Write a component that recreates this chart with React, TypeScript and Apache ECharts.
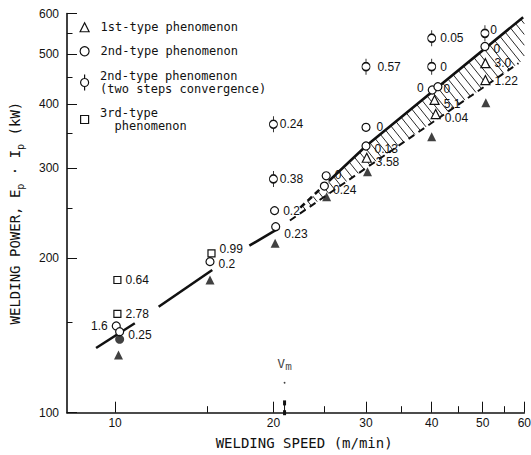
import React, { useEffect, useRef } from "react";
import * as echarts from "echarts";

// ---------- axis ticks ----------
const xMajorTicks = [10, 20, 30, 40, 50, 60];
const xMinorTicks = [15, 25, 35, 45, 55];
const yMajorTicks = [100, 200, 300, 400, 500, 600];
const yMinorTicks = [150, 250, 350, 450, 550];
const xRange = [8.1, 60];
const yRange = [100, 600];

// ---------- data (speed m/min, power kW, label) ----------
const type1Speed = [30.1, 40.5, 40.7, 50.6, 50.6];
const type1Power = [314, 407, 382, 480, 445];
const type1Labels = ["3.58", "5.1", "0.04", "3.0", "1.22"];

const type2Speed = [10.05, 10.2, 15.15, 20.1, 20.2, 25.2, 25.0, 30.0, 30.0, 40.1, 41.1, 50.5];
const type2Power = [147.6, 143.8, 197, 247.7, 230.5, 289.6, 276.5, 360, 331, 425.6, 432, 517.4];
const type2Labels = ["1.6", "0.25", "0.2", "0.2", "0.23", "0", "0.24", "0", "0.13", "0", "0", "0"];

const twoStepSpeed = [20.0, 20.0, 30.0, 40.0, 40.0, 50.5];
const twoStepPower = [365, 285.5, 472.6, 537, 472.6, 549];
const twoStepLabels = ["0.24", "0.38", "0.57", "0.05", "0", "0"];

const type3Speed = [10.1, 10.1, 15.25];
const type3Power = [181.4, 155.8, 204.5];
const type3Labels = ["0.64", "2.78", "0.99"];

const filledTriSpeed = [10.15, 15.15, 20.15, 25.25, 30.2, 40.0, 50.7];
const filledTriPower = [129.6, 181.4, 213.9, 263.5, 294.9, 345.2, 402];

const filledCircleSpeed = [10.2];
const filledCirclePower = [139];

// trend line (pairs of points = drawn segments)
const trendSpeed = [9.2, 10.9, 12.1, 15.3, 18.0, 20.5];
const trendPower = [133.7, 149.4, 160.9, 189.7, 211.6, 229];
// hatched band boundaries
const upperSpeed = [22.5, 25.5, 30, 59.7];
const upperPower = [251, 283, 331, 590];
const lowerSpeed = [21.5, 58.5];
const lowerPower = [237, 480];

// critical speed Vm
const vmSpeed = 21;
const vmArrowPower = [100, 104.5];
const vmDotPower = 114.4;

// ---------- label placement (style, kept apart from the data) ----------
type Place = [string, number, number];
const type1Place: Place[] = [["right", 0, 4], ["right", 0, 4], ["right", 0, 4], ["right", 0, 0], ["right", 0, 1]];
const type2Place: Place[] = [
  ["left", 0, 0], ["right", 0, 3], ["right", 0, 2], ["right", 0, 0], ["right", 0, 7], ["right", 0, -1],
  ["right", 0, 4], ["right", 2, 0], ["right", 0, 3], ["left", 0, -2], ["right", -3, 2], ["right", 0, 3],
];
const twoStepPlace: Place[] = [["right", -2, 0], ["right", -2, 0], ["right", 3, 0], ["right", 0, 0], ["right", 0, 0], ["right", -3, -3]];
const type3Place: Place[] = [["right", 0, 0], ["right", 0, 0], ["right", 0, -4]];

const INK = "#111";
const NUM_FONT = "Liberation Sans";
const MONO = "DejaVu Sans Mono";
const L = Math.log10;

const NAME1 = "1st-type phenomenon";
const NAME2 = "2nd-type phenomenon";
const NAME2B = "2nd-type phenomenon\n(two steps convergence)";
const NAME3 = "3rd-type\n  phenomenon";

const twoStepSymbol = "path://M4,0 L4,4 M4,12 L4,16 M0,8 A4,4 0 1 1 8,8 A4,4 0 1 1 0,8 Z";

function pts(sp: number[], pw: number[], labels?: string[], place?: Place[]) {
  return sp.map((s, i) => {
    const item: any = { value: [s, pw[i]] };
    if (labels) {
      item.name = labels[i];
      const p = place ? place[i] : ["right", 0, 0];
      item.label = { position: p[0], offset: [p[1], p[2]] };
    }
    return item;
  });
}

const labelStyle = {
  show: true,
  formatter: "{b}",
  color: INK,
  fontFamily: NUM_FONT,
  fontSize: 12,
  lineHeight: 11,
  distance: 4,
};

function openMarker(name: string, symbol: string, size: any, sp: number[], pw: number[], labels: string[], place: Place[]) {
  return {
    name,
    type: "scatter",
    symbol,
    symbolSize: size,
    z: 5,
    silent: true,
    itemStyle: { color: "#fff", borderColor: INK, borderWidth: 1.2, opacity: 1 },
    label: labelStyle,
    data: pts(sp, pw, labels, place),
  };
}

function segment(a: number[], b: number[], dashed: boolean, width: number) {
  return {
    type: "line",
    silent: true,
    showSymbol: false,
    symbol: "none",
    z: 3,
    lineStyle: { color: INK, width, type: dashed ? [6, 4] : "solid", cap: "butt" },
    data: [a, b],
  };
}

function buildOption() {
  const series: any[] = [];

  for (let i = 0; i + 1 < trendSpeed.length; i += 2) {
    series.push(segment([trendSpeed[i], trendPower[i]], [trendSpeed[i + 1], trendPower[i + 1]], false, 2.6));
  }
  series.push(segment([upperSpeed[0], upperPower[0]], [upperSpeed[1], upperPower[1]], true, 2.6));
  series.push({
    type: "line",
    silent: true,
    showSymbol: false,
    symbol: "none",
    z: 3,
    lineStyle: { color: INK, width: 2.6 },
    data: upperSpeed.slice(1).map((s, i) => [s, upperPower[i + 1]]),
  });
  series.push({
    type: "line",
    silent: true,
    showSymbol: false,
    symbol: "none",
    z: 3,
    lineStyle: { color: INK, width: 2, type: [7, 5] },
    data: lowerSpeed.map((s, i) => [s, lowerPower[i]]),
  });

  // hatching between the two boundaries
  series.push({
    type: "custom",
    silent: true,
    z: 2,
    data: [[upperSpeed[0], upperPower[0]]],
    renderItem: (params: any, api: any) => {
      const up = upperSpeed.map((s, i) => api.coord([s, upperPower[i]]));
      const lo = lowerSpeed.map((s, i) => api.coord([s, lowerPower[i]]));
      const ml = (lo[1][1] - lo[0][1]) / (lo[1][0] - lo[0][0]);
      const k = 1.25;
      const xmax = params.coordSys.x + params.coordSys.width;
      const children: any[] = [];
      const xEnd = up[up.length - 1][0];
      for (let x = up[0][0] + 2; x <= xEnd + 0.01; x += 5.2) {
        let y = up[0][1];
        for (let j = 0; j + 1 < up.length; j++) {
          if (x >= up[j][0] && x <= up[j + 1][0]) {
            const f = (x - up[j][0]) / (up[j + 1][0] - up[j][0]);
            y = up[j][1] + f * (up[j + 1][1] - up[j][1]);
          }
        }
        const t = (lo[0][1] + ml * (x - lo[0][0]) - y) / (k - ml);
        if (t <= 0.5) continue;
        let x2 = x + t;
        let y2 = y + k * t;
        if (x2 > xmax) {
          x2 = xmax;
          y2 = y + k * (xmax - x);
        }
        children.push({
          type: "line",
          shape: { x1: x, y1: y, x2, y2 },
          style: { stroke: INK, lineWidth: 0.9 },
        });
      }
      return { type: "group", children };
    },
  });

  // Vm arrow + dot
  series.push({
    type: "line",
    silent: true,
    z: 3,
    symbol: ["none", "arrow"],
    symbolSize: [3, 5],
    showSymbol: true,
    itemStyle: { color: INK, borderWidth: 0 },
    lineStyle: { color: INK, width: 1 },
    data: [[vmSpeed, vmArrowPower[0]], [vmSpeed, vmArrowPower[1]]],
  });
  series.push({
    type: "scatter",
    silent: true,
    symbol: "circle",
    symbolSize: 1.8,
    itemStyle: { color: INK },
    label: {
      show: true,
      position: "top",
      distance: 10,
      formatter: "V{m|m}",
      color: INK,
      fontFamily: MONO,
      fontSize: 13,
      lineHeight: 16,
      rich: { m: { fontFamily: MONO, fontSize: 11, lineHeight: 11, verticalAlign: "bottom", color: INK } },
    },
    data: [[vmSpeed, vmDotPower]],
  });

  // markers
  series.push(openMarker(NAME1, "triangle", 9, type1Speed, type1Power, type1Labels, type1Place));
  series.push(openMarker(NAME2, "circle", 8, type2Speed, type2Power, type2Labels, type2Place));
  series.push(openMarker(NAME2B, twoStepSymbol, [8, 16], twoStepSpeed, twoStepPower, twoStepLabels, twoStepPlace));
  series.push(openMarker(NAME3, "rect", 7, type3Speed, type3Power, type3Labels, type3Place));
  series.push({
    name: "filled-triangle",
    type: "scatter",
    symbol: "triangle",
    symbolSize: 9,
    z: 5,
    silent: true,
    itemStyle: { color: INK },
    data: pts(filledTriSpeed, filledTriPower),
  });
  series.push({
    name: "filled-circle",
    type: "scatter",
    symbol: "circle",
    symbolSize: 9,
    z: 5,
    silent: true,
    itemStyle: { color: INK },
    data: pts(filledCircleSpeed, filledCirclePower),
  });

  const legendBase = {
    left: 79.5,
    padding: 0,
    itemWidth: 9,
    itemHeight: 9,
    selectedMode: false,
    symbolKeepAspect: true,
    itemStyle: { borderWidth: 1.2 },
    textStyle: { fontFamily: MONO, fontSize: 12, color: INK, lineHeight: 13.5, padding: [0, 0, 0, 6.5] },
  };

  const tickLine = { color: INK, width: 1 };
  const numLabel = { color: INK, fontFamily: NUM_FONT, fontSize: 12 };

  return {
    animation: false,
    backgroundColor: "#fff",
    grid: { left: 67, right: 6.7, top: 13.5, bottom: 42.3, containLabel: false, outerBoundsMode: "none" },
    legend: [
      { ...legendBase, top: 20.5, data: [NAME1] },
      { ...legendBase, top: 44.5, data: [NAME2] },
      { ...legendBase, top: 69, itemWidth: 8, itemHeight: 16, left: 80, data: [NAME2B] },
      { ...legendBase, top: 106, itemWidth: 8, itemHeight: 8, left: 80, data: [NAME3] },
    ],
    xAxis: [
      {
        type: "log",
        logBase: 10,
        min: xRange[0],
        max: xRange[1],
        position: "bottom",
        axisLine: { show: true, onZero: false, lineStyle: { color: INK, width: 1.6 } },
        axisTick: { show: false },
        axisLabel: { show: false },
        splitLine: { show: false },
        name: "WELDING SPEED (m/min)",
        nameLocation: "middle",
        nameGap: 23,
        nameTextStyle: { fontFamily: MONO, fontSize: 14, color: INK, padding: [0, 0, 0, 17] },
      },
      {
        type: "value",
        min: L(xRange[0]),
        max: L(xRange[1]),
        position: "bottom",
        axisLine: { show: false, onZero: false },
        axisTick: { show: true, inside: true, length: 11, lineStyle: tickLine, customValues: xMajorTicks.map(L) },
        axisLabel: {
          show: true,
          ...numLabel,
          margin: 4,
          customValues: xMajorTicks.map(L),
          formatter: (v: number) => String(Math.round(Math.pow(10, v))),
        },
        splitLine: { show: false },
      },
      {
        type: "value",
        min: L(xRange[0]),
        max: L(xRange[1]),
        position: "bottom",
        axisLine: { show: false, onZero: false },
        axisTick: { show: true, inside: true, length: 6.5, lineStyle: tickLine, customValues: xMinorTicks.map(L) },
        axisLabel: { show: false },
        splitLine: { show: false },
      },
    ],
    yAxis: [
      {
        type: "log",
        logBase: 10,
        min: yRange[0],
        max: yRange[1],
        position: "left",
        axisLine: { show: true, onZero: false, lineStyle: { color: INK, width: 1.6 } },
        axisTick: { show: false },
        axisLabel: { show: false },
        splitLine: { show: false },
        name: "WELDING POWER, E{sub|p} · I{sub|p} (kW)",
        nameLocation: "middle",
        nameRotate: 90,
        nameGap: 42,
        nameTextStyle: {
          fontFamily: MONO,
          fontSize: 14,
          color: INK,
          lineHeight: 20,
          rich: { sub: { fontFamily: MONO, fontSize: 10, lineHeight: 10, verticalAlign: "bottom", color: INK } },
        },
      },
      {
        type: "value",
        min: L(yRange[0]),
        max: L(yRange[1]),
        position: "left",
        axisLine: { show: false, onZero: false },
        axisTick: { show: true, inside: true, length: 10, lineStyle: tickLine, customValues: yMajorTicks.map(L) },
        axisLabel: {
          show: true,
          ...numLabel,
          margin: 8,
          customValues: yMajorTicks.map(L),
          formatter: (v: number) => String(Math.round(Math.pow(10, v))),
        },
        splitLine: { show: false },
      },
      {
        type: "value",
        min: L(yRange[0]),
        max: L(yRange[1]),
        position: "left",
        axisLine: { show: false, onZero: false },
        axisTick: { show: true, inside: true, length: 5.5, lineStyle: tickLine, customValues: yMinorTicks.map(L) },
        axisLabel: { show: false },
        splitLine: { show: false },
      },
    ],
    series,
  };
}

export default function App() {
  const ref = useRef<HTMLDivElement>(null);
  useEffect(() => {
    if (!ref.current) return;
    const chart = echarts.init(ref.current, null, { renderer: "svg" });
    chart.setOption(buildOption() as any);
    return () => chart.dispose();
  }, []);
  return (
    <div
      ref={ref}
      style={{ position: "fixed", left: 0, top: 0, width: 531, height: 455, background: "#fff" }}
    />
  );
}
